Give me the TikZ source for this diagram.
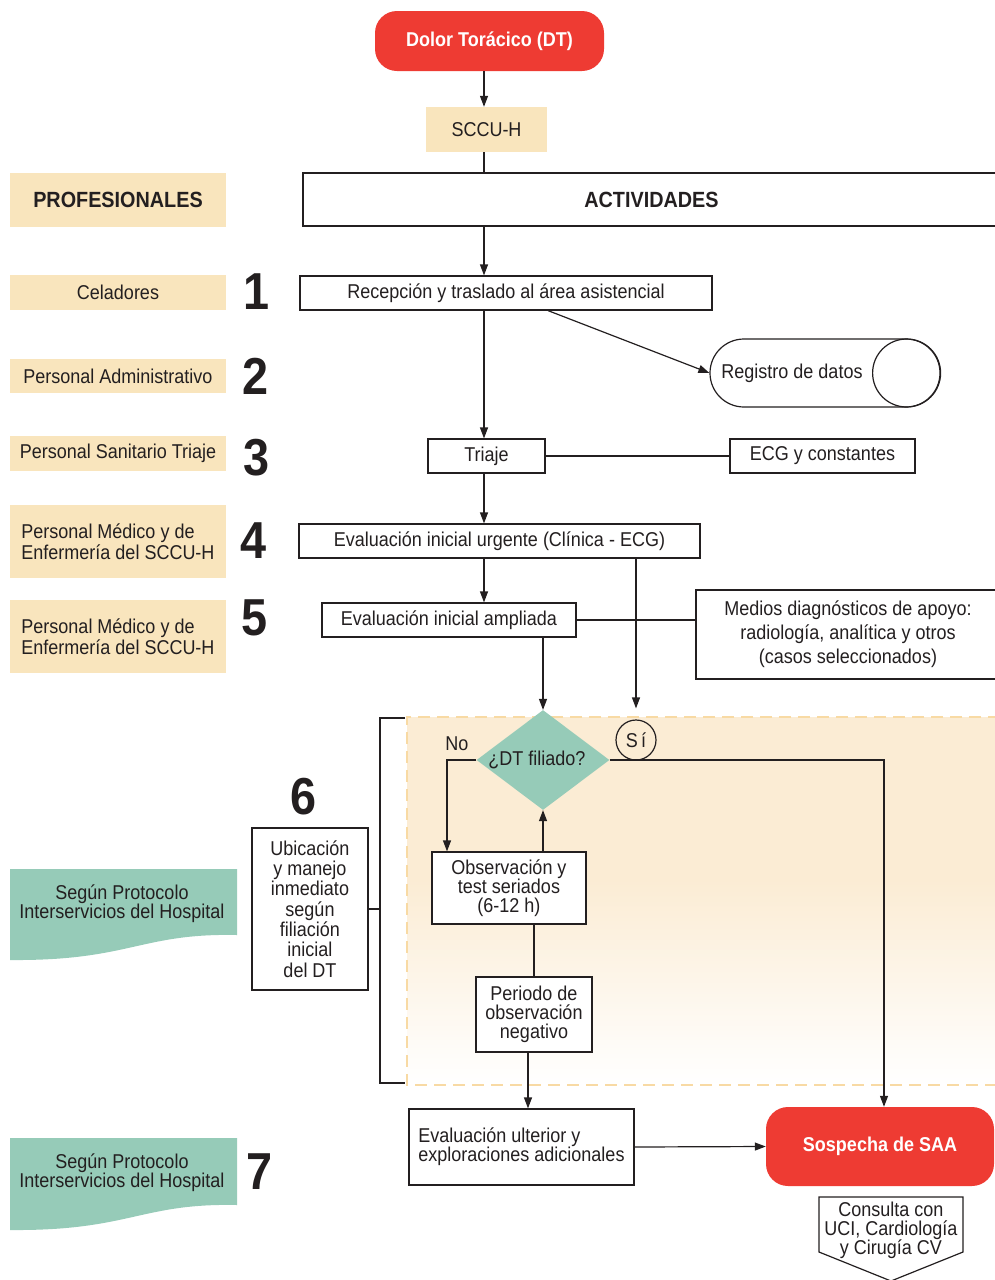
\documentclass[tikz,border=0pt]{standalone}
\usepackage{fontspec}
\setmainfont{Liberation Sans}[FakeStretch=0.9]
\usetikzlibrary{arrows.meta,shapes.geometric}
\definecolor{ink}{HTML}{231F20}
\definecolor{alarm}{HTML}{EE3B33}
\definecolor{beige}{HTML}{F9E5BD}
\definecolor{sea}{HTML}{96CBB8}
\definecolor{zone}{HTML}{FBECD4}
\definecolor{zoneedge}{HTML}{F8DAA4}
\begin{document}
\begin{tikzpicture}[x=1pt,y=-1pt,
  every node/.style={text=ink, font=\fontsize{20}{20}\selectfont, inner sep=0pt},
  flow/.style={draw=ink, line width=1.2pt, fill=white, align=center},
  role/.style={fill=beige, align=left, minimum width=216},
  alarmbox/.style={fill=alarm, rounded corners=22, text=white, font=\bfseries\fontsize{20}{22}\selectfont},
  num/.style={font=\bfseries\fontsize{52}{52}\selectfont},
  link/.style={draw=ink, line width=1.2pt},
  arr/.style={link, -{Triangle[length=11pt,width=8pt]}},
]
\useasboundingbox (0,0) rectangle (995,1280);

% shaded zone of step 6
\fill[zone] (407,717) rectangle (1000,880);
\shade[top color=zone, bottom color=white] (407,879.5) rectangle (1000,1085);
\draw[zoneedge, line width=2, dash pattern=on 12pt off 7pt] (1000,717) -- (407,717) -- (407,1085) -- (1000,1085);

% column guides
\coordinate (c1) at (484,0);
\coordinate (brk) at (380,0);

% header
\node[alarmbox, minimum width=229, minimum height=60] (dolor) at (489.5,41) {Dolor Torácico (DT)};
\node[fill=beige, minimum width=121, minimum height=45] (sccu) at (486.5,129.5) {SCCU-H};
\node[flow, minimum width=697, minimum height=53, font=\bfseries\fontsize{22}{24}\selectfont] (act) at (651.5,199.5) {ACTIVIDADES};
\node[role, align=center, minimum height=54, font=\bfseries\fontsize{22}{24}\selectfont] (prof) at (118,200) {PROFESIONALES};

% professionals column
\node[role, minimum height=35] (cel) at (118,292.5) {Celadores};
\node[role, minimum height=34] (adm) at (118,376) {Personal Administrativo};
\node[role, minimum height=35] (stri) at (118,453.5) {Personal Sanitario Triaje};
\node[role, minimum height=73, font=\fontsize{20}{21}\selectfont] (med4) at (118,541.5) {Personal Médico y de\\Enfermería del SCCU-H};
\node[role, minimum height=73, font=\fontsize{20}{21}\selectfont] (med5) at (118,636.5) {Personal Médico y de\\Enfermería del SCCU-H};

% step numbers
\node[num] (n1) at (257,292) {1};
\node[num] (n2) at (256,376) {2};
\node[num] (n3) at (257,458) {3};
\node[num] (n4) at (254,541) {4};
\node[num] (n5) at (255,618) {5};
\node[num] (n6) at (304,797) {6};
\node[num] (n7) at (260,1172) {7};

% activities
\node[flow, minimum width=412, minimum height=34] (recep) at (506,293) {Recepción y traslado al área asistencial};
\node[flow, rounded corners=34, minimum width=230, minimum height=68] (reg) at (825,373) {Registro de datos\hspace*{66pt}};
\draw[link] ([xshift=-34]reg.east) circle[radius=34pt];
\node[flow, minimum width=117, minimum height=34] (triaje) at (486.5,456) {Triaje};
\node[flow, minimum width=185, minimum height=34] (ecg) at (822.5,456) {ECG y constantes};
\node[flow, minimum width=401, minimum height=34] (urg) at (499.5,541) {Evaluación inicial urgente (Clínica - ECG)};
\node[flow, minimum width=254, minimum height=34] (amp) at (449,620) {Evaluación inicial ampliada};
\node[flow, minimum width=304, minimum height=89, font=\fontsize{20}{24}\selectfont] (medios) at (848,634.5) {Medios diagnósticos de apoyo:\\radiología, analítica y otros\\(casos seleccionados)};

% decision block
\node[diamond, aspect=1.33, fill=sea, minimum width=130, minimum height=98] (dia) at (543,760) {¿DT filiado?\hspace*{12pt}};
\node (no) at (457,744) {No};
\node[draw=ink, line width=1.2pt, circle, minimum size=40] (si) at (636,740) {S\,í};
\node[flow, minimum width=154, minimum height=72, font=\fontsize{20}{19}\selectfont] (obs) at (509,888) {Observación y\\test seriados\\(6-12 h)};
\node[flow, minimum width=116, minimum height=75, font=\fontsize{20}{19}\selectfont] (per) at (534,1014.5) {Periodo de\\observación\\negativo};
\node[flow, minimum width=225, minimum height=76, align=left, font=\fontsize{20}{19}\selectfont] (ult) at (521.5,1147) {Evaluación ulterior y\\exploraciones adicionales};
\node[alarmbox, minimum width=228, minimum height=79] (sos) at (880,1146.5) {Sospecha de SAA};

% consultation pointer
\draw[link, fill=white] (819,1197) -- (963,1197) -- (963,1252) -- (891,1281) -- (819,1252) -- cycle;
\node[font=\fontsize{20}{19}\selectfont, align=center] (cons) at (891,1230) {Consulta con\\UCI, Cardiología\\y Cirugía CV};

% step 6 description and bracket
\node[flow, minimum width=116, minimum height=162, font=\fontsize{20}{20.3}\selectfont] (ubi) at (310,909) {Ubicación\\y manejo\\inmediato\\según\\filiación\\inicial\\del DT};
\draw[link] (405,718) -- (brk |- 0,718) -- (brk |- 0,1083) -- (405,1083);
\draw[link] (ubi.east) -- (ubi.east -| brk);

% protocol tags
\fill[sea] (10,869) -- (237,869) -- (237,935) .. controls (140,933) and (130,961) .. (10,960) -- cycle;
\node[align=center, font=\fontsize{20}{19}\selectfont] (prot6) at (122,904) {Según Protocolo\\Interservicios del Hospital};
\fill[sea] (10,1138) -- (237,1138) -- (237,1205) .. controls (140,1203) and (130,1231) .. (10,1230) -- cycle;
\node[align=center, font=\fontsize{20}{19}\selectfont] (prot7) at (122,1173) {Según Protocolo\\Interservicios del Hospital};

% connectors
\draw[arr] (dolor.south -| c1) -- (sccu.north -| c1);
\draw[link] (sccu.south -| c1) -- (act.north -| c1);
\draw[arr] (act.south -| c1) -- (recep.north -| c1);
\draw[arr] ([xshift=42]recep.south) -- (reg.west);
\draw[arr] (recep.south -| c1) -- (triaje.north -| c1);
\draw[link] (triaje.east) -- (ecg.west);
\draw[arr] (triaje.south -| c1) -- (urg.north -| c1);
\draw[arr] (urg.south -| c1) -- (amp.north -| c1);
\draw[link] (amp.east) -- (amp.east -| medios.west);
\draw[arr, shorten >=11pt] (urg.south -| si) -- (si.north);
\draw[arr] (amp.south -| dia) -- (dia.north);
\draw[arr] (dia.west) -| ([xshift=-62]obs.north);
\draw[arr] (obs.north -| dia) -- (dia.south);
\draw[arr] (dia.east) -| ([xshift=4]sos.north);
\draw[link] (obs.south -| per) -- (per.north);
\draw[arr] ([xshift=-6]per.south) -- ([xshift=-6]per.south |- ult.north);
\draw[arr] (ult.east) -- (sos.west);
\end{tikzpicture}
\end{document}
